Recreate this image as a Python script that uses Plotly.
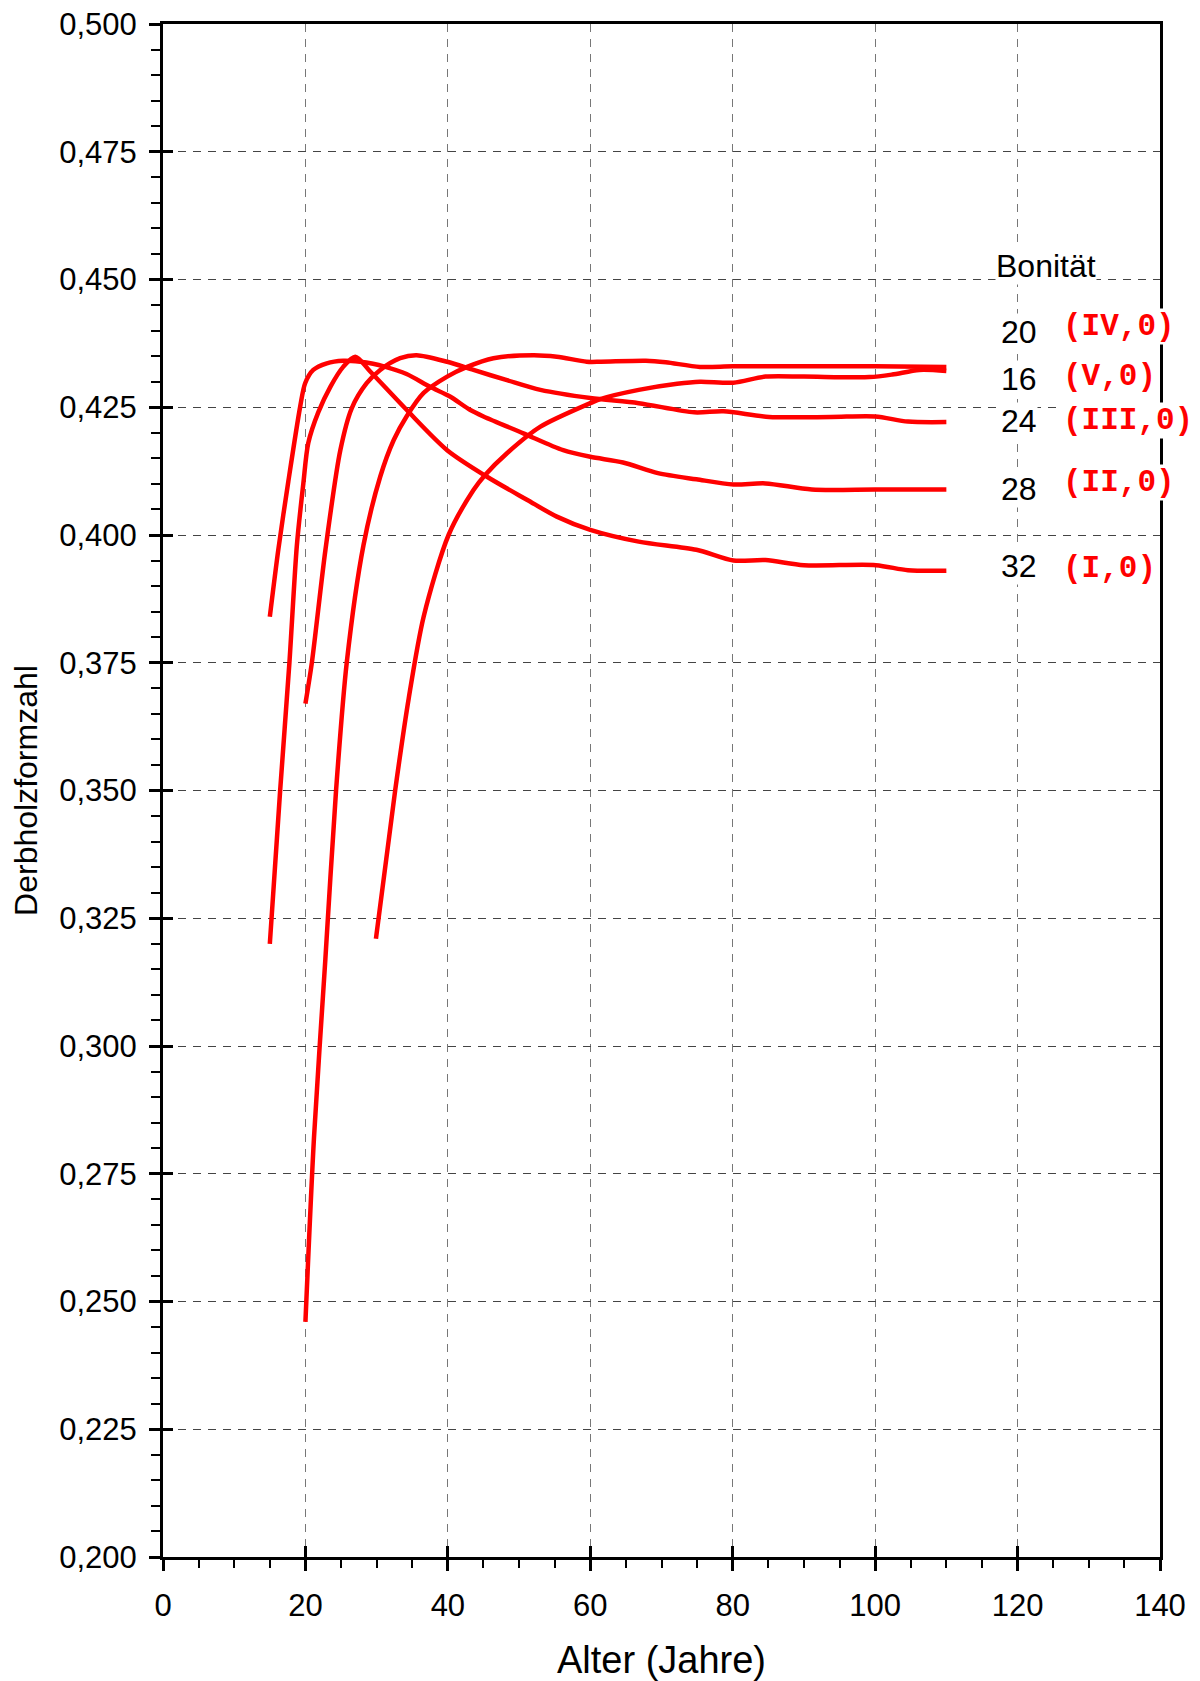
import plotly.graph_objects as go

# ---- data ----
age_28 = [15, 16.2, 17.6, 19.26, 19.96, 21.1, 23, 25.3, 27.7, 29.5, 31, 34.2, 37.5, 40.3, 43.1, 45, 50.6, 56.2, 60, 64.6, 69.5, 74.9, 80.1, 84.6, 91.1, 100, 110]
val_28 = [0.384, 0.3972, 0.4105, 0.4251, 0.4297, 0.4323, 0.4336, 0.4341, 0.4339, 0.4335, 0.4330, 0.4315, 0.4290, 0.4271, 0.4245, 0.4232, 0.4199, 0.4166, 0.4153, 0.4142, 0.4121, 0.4109, 0.4099, 0.4101, 0.4089, 0.4089, 0.4089]

age_32 = [15, 16.45, 17.75, 18.8, 19.7, 20.4, 21.8, 23.5, 25.3, 27.0, 29.1, 34.2, 39.9, 45.5, 51.1, 55.3, 60, 66.8, 74.9, 80.1, 84.6, 90, 100.1, 104.6, 110]
val_32 = [0.320, 0.350, 0.375, 0.398, 0.410, 0.418, 0.4240, 0.4290, 0.4329, 0.4349, 0.4320, 0.4245, 0.4166, 0.4114, 0.4069, 0.4036, 0.4010, 0.3987, 0.3971, 0.3950, 0.3951, 0.3941, 0.3941, 0.3931, 0.3930]

age_24 = [20, 20.9, 22.8, 24.9, 26.5, 28.6, 30.5, 33.3, 35.6, 39.9, 43.6, 48.3, 53, 60, 66.8, 74.6, 78.7, 85.1, 93.8, 100, 104.6, 110]
val_24 = [0.367, 0.375, 0.397, 0.4166, 0.4248, 0.4297, 0.4323, 0.4346, 0.4352, 0.4339, 0.4323, 0.4303, 0.4284, 0.4268, 0.4258, 0.4240, 0.4242, 0.4231, 0.4231, 0.4232, 0.4222, 0.4221]

age_20 = [20, 21.2, 22.8, 24.3, 25.8, 28.15, 30.5, 32.4, 34.2, 36.6, 39.9, 42.7, 46.4, 52, 55.3, 59.5, 61.5, 67.8, 70.6, 75.4, 80, 90, 100, 110]
val_20 = [0.246, 0.282, 0.317, 0.350, 0.375, 0.398, 0.4114, 0.4186, 0.4232, 0.4278, 0.4310, 0.4329, 0.4346, 0.4352, 0.4349, 0.4339, 0.4339, 0.4341, 0.4338, 0.4329, 0.4330, 0.4330, 0.4330, 0.4329]

age_16 = [29.9, 32.6, 34.5, 36.6, 40.1, 43.6, 45.2, 48.3, 53, 60, 61.4, 66.8, 72.2, 75.4, 80.1, 84.6, 90, 99.2, 102.4, 106.2, 110]
val_16 = [0.321, 0.350, 0.368, 0.384, 0.400, 0.4088, 0.4117, 0.4160, 0.4212, 0.4258, 0.4266, 0.4284, 0.4296, 0.4300, 0.4298, 0.4310, 0.4310, 0.4309, 0.4314, 0.4323, 0.4321]

series = [
    (age_20, val_20), (age_16, val_16), (age_24, val_24), (age_28, val_28), (age_32, val_32),
]

bonitaet_nums = ["20", "16", "24", "28", "32"]
bonitaet_num_y = [0.4397, 0.4305, 0.4223, 0.4091, 0.3939]
bonitaet_codes = ["(IV,0)", "(V,0)", "(III,0)", "(II,0)", "(I,0)"]
bonitaet_code_y = [0.4409, 0.4311, 0.4225, 0.4103, 0.3935]

x_ticks = [0, 20, 40, 60, 80, 100, 120, 140]
y_ticks = [0.200, 0.225, 0.250, 0.275, 0.300, 0.325, 0.350, 0.375, 0.400, 0.425, 0.450, 0.475, 0.500]

RED = "#ff0000"
FONT = "Liberation Sans, Arial, sans-serif"

fig = go.Figure()
for xs, ys in series:
    fig.add_trace(go.Scatter(x=xs, y=ys, mode="lines",
                             line=dict(color=RED, width=4.5, shape="spline", smoothing=0.8),
                             showlegend=False, hoverinfo="skip"))
# empty trace to register the overlay axes (inside tick marks)
fig.add_trace(go.Scatter(x=[], y=[], xaxis="x2", yaxis="y2", showlegend=False, hoverinfo="skip"))

for txt, yv in zip(bonitaet_nums, bonitaet_num_y):
    fig.add_annotation(x=117.6, y=yv, text=txt, showarrow=False, xanchor="left", yanchor="middle",
                       font=dict(family=FONT, size=32, color="black"), bgcolor="white", borderpad=0)
for txt, yv in zip(bonitaet_codes, bonitaet_code_y):
    fig.add_annotation(x=126.2, y=yv, text="<b>" + txt + "</b>", showarrow=False, xanchor="left", yanchor="middle",
                       font=dict(family="Liberation Mono, Courier New, monospace", size=31, color=RED),
                       bgcolor="white", borderpad=0)
fig.add_annotation(x=116.8, y=0.4527, text="Bonität", showarrow=False, xanchor="left", yanchor="middle",
                   font=dict(family=FONT, size=32, color="black"), bgcolor="white", borderpad=0)

grid_common = dict(showgrid=True, gridwidth=1, griddash="8px,7px", zeroline=False, automargin=False,
                   ticklabeloverflow="allow")

# the page body has an 8px default margin, so the figure is 8px smaller than the window
fig.update_layout(
    width=1192, height=1673,
    margin=dict(l=155, r=40, t=16, b=124),
    paper_bgcolor="white", plot_bgcolor="white",
    separators=",.",
    font=dict(family=FONT, size=31, color="black"),
    xaxis=dict(range=[0, 140], tickvals=x_ticks, ticks="outside", ticklen=11, tickwidth=2.5,
               tickcolor="black", showline=True, linewidth=3, linecolor="black", mirror=True,
               gridcolor="#777777", tickfont=dict(size=31), ticklabelstandoff=8,
               minor=dict(dtick=5, ticks="outside", ticklen=8, tickwidth=2, tickcolor="black", showgrid=False),
               title=dict(text="Alter (Jahre)", font=dict(size=38), standoff=32),
               **grid_common),
    yaxis=dict(range=[0.2, 0.5], tickvals=y_ticks, tickformat=".3f", ticks="outside", ticklen=11,
               tickwidth=2.5, tickcolor="black", showline=True, linewidth=3, linecolor="black", mirror=True,
               gridcolor="#444444", tickfont=dict(size=31), ticklabelstandoff=6,
               minor=dict(dtick=0.005, ticks="outside", ticklen=9, tickwidth=2, tickcolor="black", showgrid=False),
               title=dict(text="Derbholzformzahl", font=dict(size=32), standoff=15),
               **grid_common),
    xaxis2=dict(range=[0, 140], tickvals=x_ticks, overlaying="x", anchor="y", side="bottom",
                ticks="inside", ticklen=11, tickwidth=2.5, tickcolor="black", automargin=False,
                showticklabels=False, showgrid=False, showline=False, zeroline=False),
    yaxis2=dict(range=[0.2, 0.5], tickvals=y_ticks, overlaying="y", anchor="x", side="left",
                ticks="inside", ticklen=10, tickwidth=2.5, tickcolor="black", automargin=False,
                showticklabels=False, showgrid=False, showline=False, zeroline=False),
)

fig.write_html("out.html")
